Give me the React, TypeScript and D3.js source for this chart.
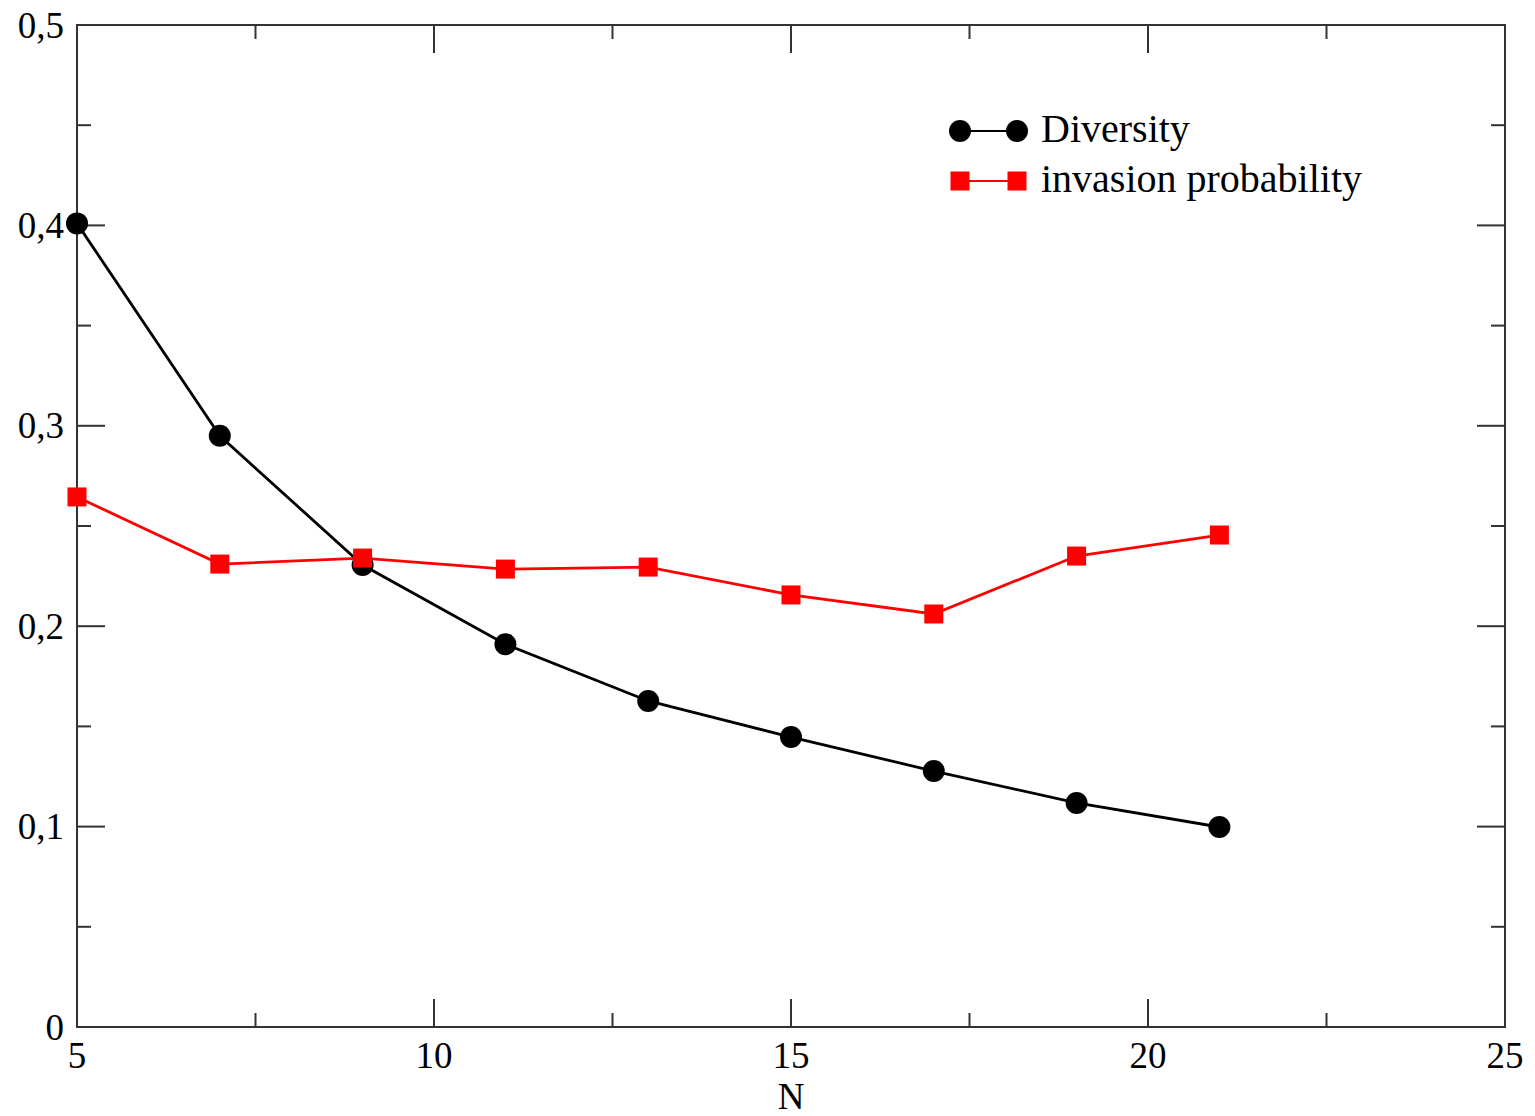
import React from "react";
import * as d3 from "d3";

const nValues = [5, 7, 9, 11, 13, 15, 17, 19, 21];
const diversity = [0.401, 0.295, 0.2305, 0.191, 0.1627, 0.1447, 0.1277, 0.1118, 0.0998];
const invasion = [0.2645, 0.231, 0.234, 0.2285, 0.2295, 0.2156, 0.2061, 0.235, 0.2455];
const xTicks = [5, 10, 15, 20, 25];
const xMinor = [7.5, 12.5, 17.5, 22.5];
const yTicks = [0, 0.1, 0.2, 0.3, 0.4, 0.5];
const yMinor = [0.05, 0.15, 0.25, 0.35, 0.45];
const seriesNames = ["Diversity", "invasion probability"];

const W = 1535, H = 1116;
const L = 77, R = 1505, T = 25, B = 1027;
const FONT = "'Liberation Serif', 'Times New Roman', serif";

export default function App() {
  const x = d3.scaleLinear().domain([5, 25]).range([L, R]);
  const y = d3.scaleLinear().domain([0, 0.5]).range([B, T]);
  const line = d3.line<[number, number]>().x(d => x(d[0])).y(d => y(d[1]));
  const divPts = nValues.map((n, i) => [n, diversity[i]] as [number, number]);
  const invPts = nValues.map((n, i) => [n, invasion[i]] as [number, number]);
  const fmt = (v: number) => (v === 0 ? "0" : v.toFixed(1).replace(".", ","));
  const axisColor = "#333";
  const major = 28, minor = 14;
  const tickFont = 37;
  const legFont = 40;
  return (
    <svg width={W} height={H} style={{ position: "absolute", left: 0, top: 0, background: "#fff" }}>
      <rect x={L} y={T} width={R - L} height={B - T} fill="none" stroke={axisColor} strokeWidth={2} />
      {xTicks.map(v => (
        <g key={"xt" + v}>
          <line x1={x(v)} x2={x(v)} y1={B} y2={B - major} stroke={axisColor} strokeWidth={2} />
          <line x1={x(v)} x2={x(v)} y1={T} y2={T + major} stroke={axisColor} strokeWidth={2} />
          <text x={x(v)} y={1068} textAnchor="middle" fontFamily={FONT} fontSize={tickFont} fill="#000">{v}</text>
        </g>
      ))}
      {xMinor.map(v => (
        <g key={"xm" + v}>
          <line x1={x(v)} x2={x(v)} y1={B} y2={B - minor} stroke={axisColor} strokeWidth={2} />
          <line x1={x(v)} x2={x(v)} y1={T} y2={T + minor} stroke={axisColor} strokeWidth={2} />
        </g>
      ))}
      {yTicks.map(v => (
        <g key={"yt" + v}>
          <line x1={L} x2={L + major} y1={y(v)} y2={y(v)} stroke={axisColor} strokeWidth={2} />
          <line x1={R} x2={R - major} y1={y(v)} y2={y(v)} stroke={axisColor} strokeWidth={2} />
          <text x={64} y={y(v) + 12.5} textAnchor="end" fontFamily={FONT} fontSize={tickFont} fill="#000">{fmt(v)}</text>
        </g>
      ))}
      {yMinor.map(v => (
        <g key={"ym" + v}>
          <line x1={L} x2={L + minor} y1={y(v)} y2={y(v)} stroke={axisColor} strokeWidth={2} />
          <line x1={R} x2={R - minor} y1={y(v)} y2={y(v)} stroke={axisColor} strokeWidth={2} />
        </g>
      ))}
      <text x={(L + R) / 2} y={1109} textAnchor="middle" fontFamily={FONT} fontSize={tickFont} fill="#000">N</text>

      <path d={line(divPts) || ""} fill="none" stroke="#000" strokeWidth={2.8} />
      {divPts.map((p, i) => (
        <circle key={"d" + i} cx={x(p[0])} cy={y(p[1])} r={11} fill="#000" />
      ))}
      <path d={line(invPts) || ""} fill="none" stroke="#ff0000" strokeWidth={2.8} />
      {invPts.map((p, i) => (
        <rect key={"v" + i} x={x(p[0]) - 9.5} y={y(p[1]) - 9.5} width={19} height={19} fill="#ff0000" />
      ))}

      <g>
        <line x1={960} x2={1017} y1={131} y2={131} stroke="#000" strokeWidth={2} />
        <circle cx={960} cy={131} r={11} fill="#000" />
        <circle cx={1017} cy={131} r={11} fill="#000" />
        <text x={1041} y={142} fontFamily={FONT} fontSize={legFont} fill="#000">{seriesNames[0]}</text>
        <line x1={960} x2={1017} y1={181} y2={181} stroke="#ff0000" strokeWidth={2} />
        <rect x={950.5} y={171.5} width={19} height={19} fill="#ff0000" />
        <rect x={1007.5} y={171.5} width={19} height={19} fill="#ff0000" />
        <text x={1041} y={192} fontFamily={FONT} fontSize={legFont} fill="#000">{seriesNames[1]}</text>
      </g>
    </svg>
  );
}
